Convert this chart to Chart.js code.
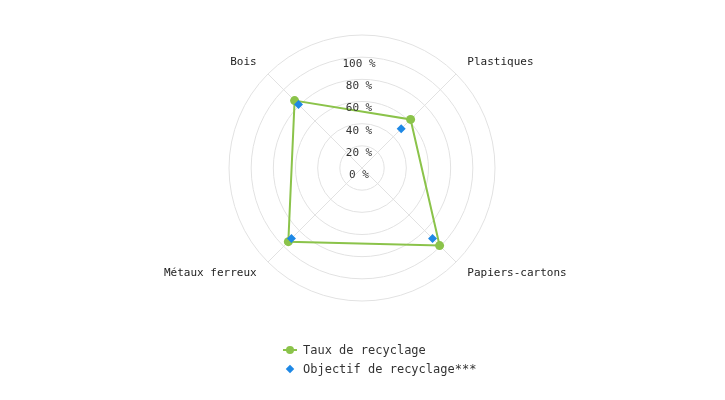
<!DOCTYPE html>
<html lang="fr">
<head>
<meta charset="utf-8">
<title>Taux de recyclage</title>
<script src="https://cdn.jsdelivr.net/npm/chart.js@4/dist/chart.umd.min.js"></script>
<style>
    html, body { margin: 0; padding: 0; background: #fff; }
    #wrap { position: relative; width: 725px; height: 400px; }
    #legend {
        position: absolute; left: 283px; top: 340px;
        font: 12px "DejaVu Sans Mono", monospace; color: #333;
    }
    .item { display: flex; align-items: center; height: 19px; }
    .marker { position: relative; width: 14px; height: 10px; margin-right: 6px; }
    .marker .line { position: absolute; left: 0; right: 0; top: 4px; height: 2px; }
    .marker .dot { position: absolute; left: 3px; top: 1px; width: 8px; height: 8px; border-radius: 50%; }
    .marker .diamond { position: absolute; left: 4px; top: 2px; width: 6px; height: 6px; transform: rotate(45deg); }
</style>
</head>
<body>
<div id="wrap">
    <canvas id="radar" width="725" height="400"></canvas>
    <div id="legend"></div>
</div>
<script>
// Données
const categories = ['Plastiques', 'Papiers-cartons', 'Métaux ferreux', 'Bois'];
const tauxRecyclage = [62, 99, 94, 86];
const objectifRecyclage = [50, 90, 90, 81];
const tickValues = [0, 20, 40, 60, 80, 100];

const GREEN = '#8BC34A';
const BLUE = '#1E88E5';
const GRID = '#e2e2e2';
const FONT = '"DejaVu Sans Mono", monospace';

/**
 * Dessine les libellés des graduations à la verticale (l'option startAngle
 * ferait tourner les libellés natifs).
 */
const tickLabelsPlugin = {
    id: 'tickLabels',
    afterDatasetsDraw(chart) {
        const scale = chart.scales.r;
        const ctx = chart.ctx;
        ctx.save();
        ctx.font = '11px ' + FONT;
        ctx.fillStyle = '#333';
        ctx.textAlign = 'center';
        ctx.textBaseline = 'middle';
        tickValues.forEach((v) => {
            const dist = scale.getDistanceFromCenterForValue(v);
            ctx.fillText(v + ' %', scale.xCenter - 3, scale.yCenter - dist + 7);
        });
        ctx.restore();
    }
};

const ctx = document.getElementById('radar').getContext('2d');
const chart = new Chart(ctx, {
    type: 'radar',
    data: {
        labels: categories,
        datasets: [{
            label: 'Taux de recyclage',
            data: tauxRecyclage,
            order: 1,
            borderColor: GREEN,
            backgroundColor: 'transparent',
            borderWidth: 2,
            fill: false,
            pointRadius: 4.5,
            pointBorderWidth: 0,
            pointBackgroundColor: GREEN,
            pointBorderColor: GREEN
        }, {
            label: 'Objectif de recyclage***',
            data: objectifRecyclage,
            order: 0,
            showLine: false,
            fill: false,
            borderColor: BLUE,
            backgroundColor: 'transparent',
            pointStyle: 'rectRot',
            pointRadius: 4.5,
            pointBorderWidth: 0,
            pointBackgroundColor: BLUE
        }]
    },
    options: {
        responsive: false,
        animation: false,
        layout: { padding: { top: 35, bottom: 98, left: 0, right: 0 } },
        plugins: {
            legend: { display: false },
            tooltip: { enabled: false }
        },
        scales: {
            r: {
                min: 0,
                max: 120,
                startAngle: 45,
                ticks: { stepSize: 20, display: false },
                grid: { circular: true, color: GRID, lineWidth: 1 },
                angleLines: { color: GRID, lineWidth: 1 },
                pointLabels: {
                    padding: 16,
                    color: '#222',
                    font: { family: FONT, size: 11, lineHeight: 0.01 }
                }
            }
        }
    },
    plugins: [tickLabelsPlugin]
});

// Légende verticale en HTML, construite à partir des jeux de données
const legendEl = document.getElementById('legend');
chart.data.datasets.forEach((ds, i) => {
    const item = document.createElement('div');
    item.className = 'item';
    const marker = document.createElement('span');
    marker.className = 'marker';
    if (i === 0) {
        marker.innerHTML = `<span class="line" style="background:${ds.borderColor}"></span>` +
            `<span class="dot" style="background:${ds.pointBackgroundColor}"></span>`;
    } else {
        marker.innerHTML = `<span class="diamond" style="background:${ds.pointBackgroundColor}"></span>`;
    }
    const text = document.createElement('span');
    text.textContent = ds.label;
    item.appendChild(marker);
    item.appendChild(text);
    legendEl.appendChild(item);
});
</script>
</body>
</html>
